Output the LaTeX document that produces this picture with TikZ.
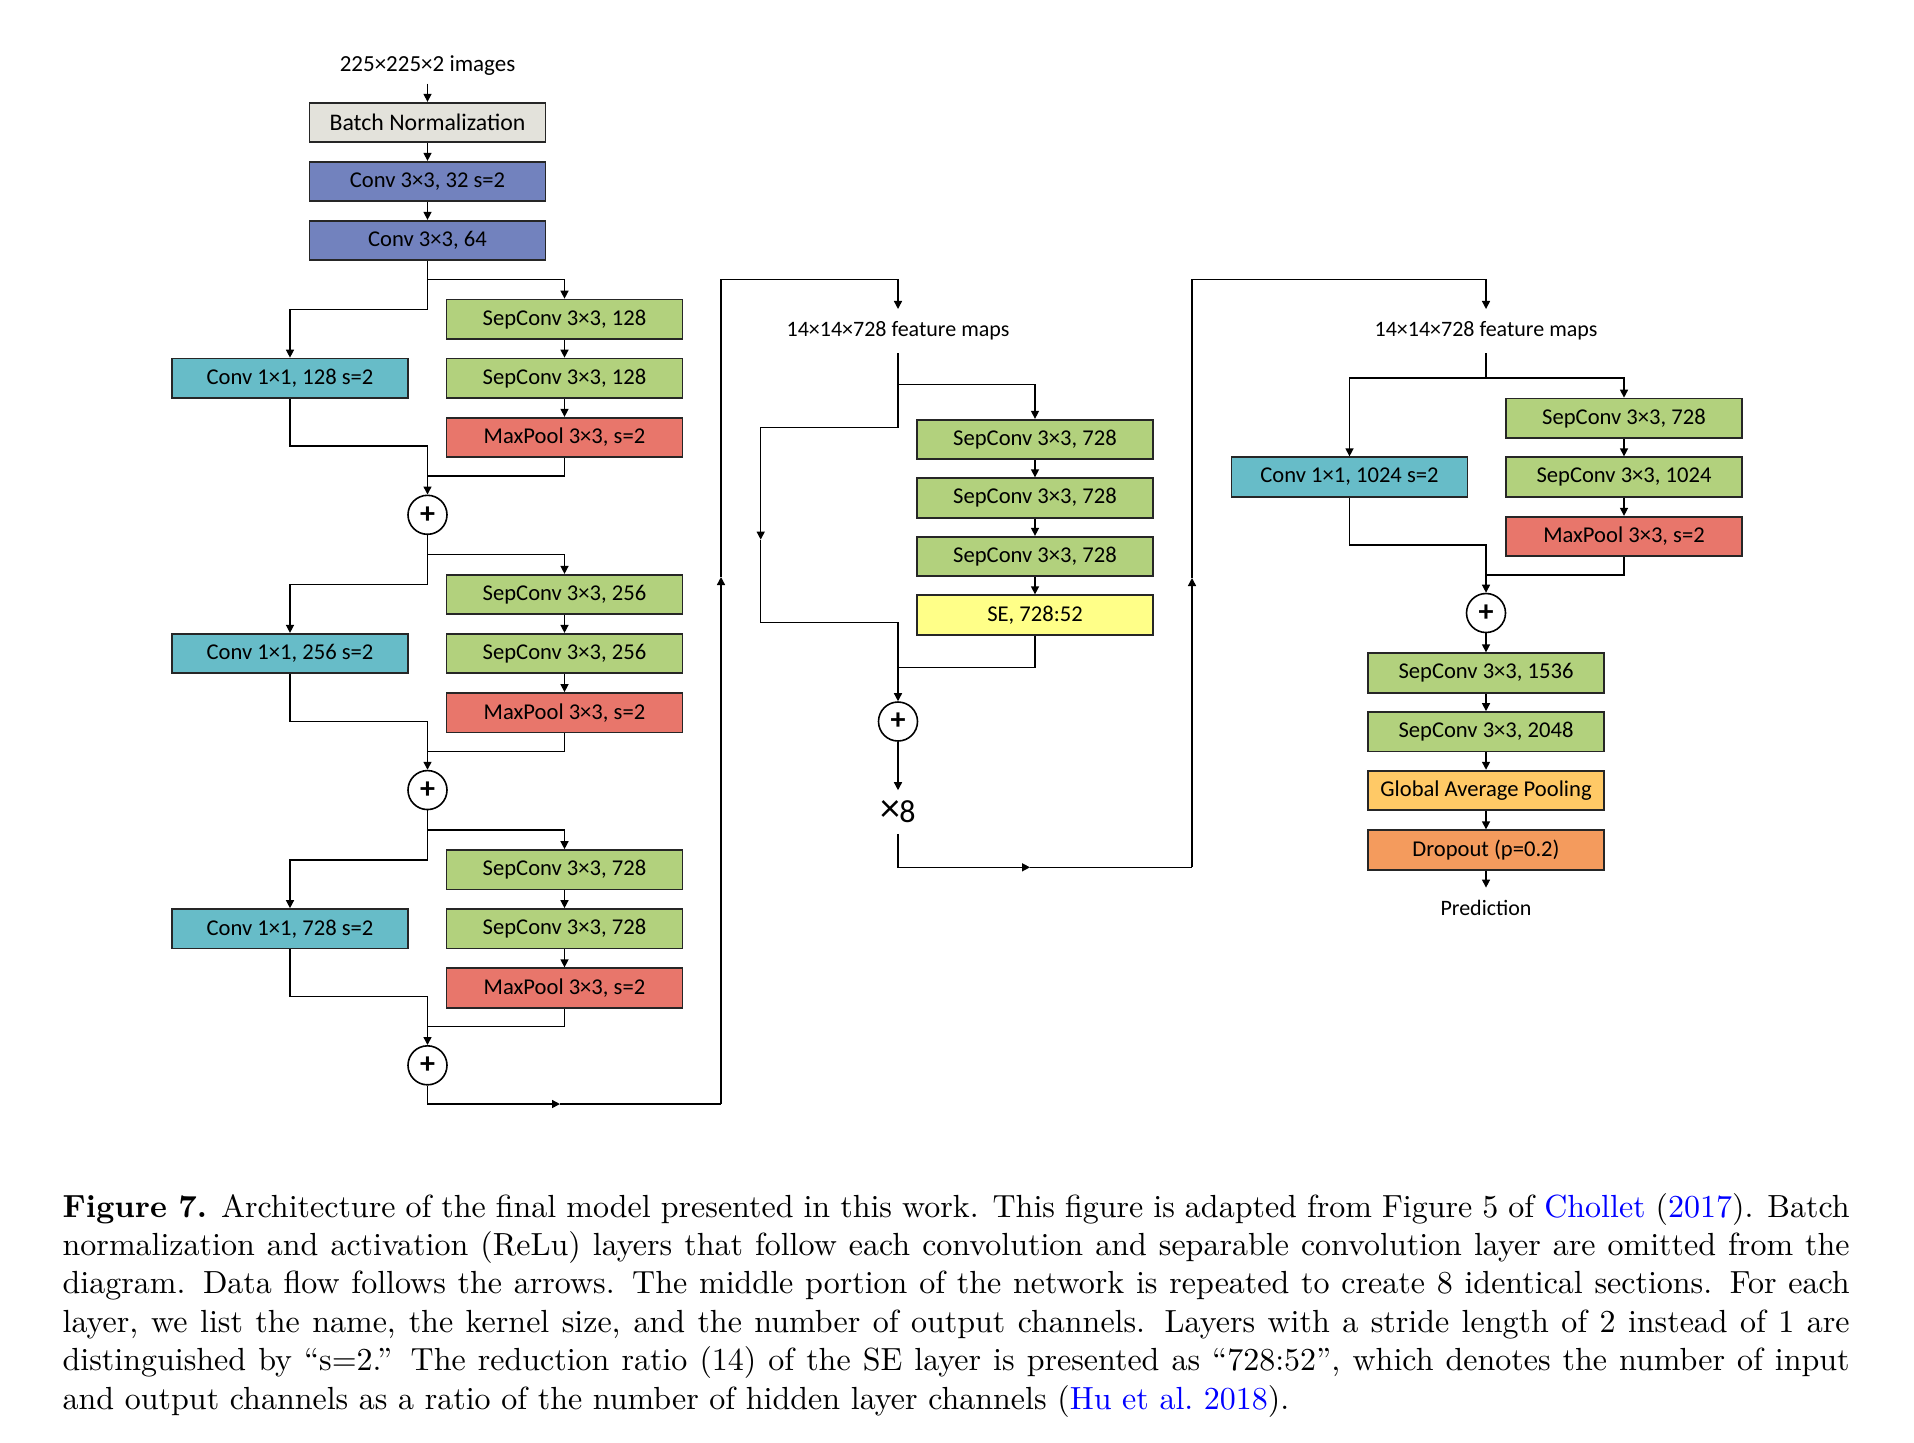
\documentclass[tikz,border=0pt]{standalone}
\usepackage{fontspec}
\newfontfamily\carlito{Carlito}
\newfontfamily\capfont{lmroman10}[Extension=.otf, UprightFont=*-regular, BoldFont=*-bold, ItalicFont=*-italic, Ligatures=TeX]
\usetikzlibrary{arrows.meta}
\definecolor{bncol}{RGB}{227,226,219}
\definecolor{convcol}{RGB}{114,130,190}
\definecolor{tealcol}{RGB}{103,188,200}
\definecolor{sepcol}{RGB}{178,209,125}
\definecolor{redcol}{RGB}{232,118,107}
\definecolor{secol}{RGB}{255,255,136}
\definecolor{gapcol}{RGB}{255,201,102}
\definecolor{dropcol}{RGB}{244,155,93}
\definecolor{linkblue}{RGB}{0,0,255}
\begin{document}
\begin{tikzpicture}[x=0.5pt,y=-0.5pt,line width=0.7pt,
  arr/.style={-{Triangle[length=4pt,width=4pt]}},
  box/.style={draw=black!85, line width=0.9pt, minimum width=118pt, minimum height=19.75pt, inner sep=0pt, font={\carlito\fontsize{11.3pt}{13pt}\selectfont}},
  lbl/.style={inner xsep=0pt, inner ysep=6pt, font={\carlito\fontsize{11pt}{13pt}\selectfont}},
  addc/.style={circle, draw, line width=0.8pt, minimum size=19.5pt, inner sep=0pt, font={\carlito\bfseries\fontsize{15pt}{15pt}\selectfont}},
  bignum/.style={inner xsep=0pt, inner ysep=5pt, font={\carlito\fontsize{16pt}{16pt}\selectfont}}
]
\fill[white] (0,0) rectangle (1914,1442);
\useasboundingbox (0,0) rectangle (1914,1442);

% ---------------- column 1 ----------------
\node[lbl, inner ysep=3.5pt, font={\carlito\fontsize{11.5pt}{13pt}\selectfont}] (inp) at (427.5,66) {225×225×2 images};
\node[box, fill=bncol, font={\carlito\fontsize{11.9pt}{13pt}\selectfont}] (bn) at (427.5,122.5) {Batch Normalization};
\node[box, fill=convcol] (c1) at (427.5,181.5) {Conv 3×3, 32 s=2};
\node[box, fill=convcol] (c2) at (427.5,240.5) {Conv 3×3, 64};
\draw[arr] (inp) -- (bn);
\draw[arr] (bn) -- (c1);
\draw[arr] (c1) -- (c2);

\foreach \k/\ch/\src in {0/128/c2,1/256/p0,2/728/p1}{
  \pgfmathsetmacro{\d}{275.25*\k}
  \node[box, fill=sepcol] (sa\k) at (564.5,{319.3+\d}) {SepConv 3×3, \ch};
  \node[box, fill=sepcol] (sb\k) at (564.5,{378.3+\d}) {SepConv 3×3, \ch};
  \node[box, fill=redcol] (mp\k) at (564.5,{437.5+\d}) {MaxPool 3×3, s=2};
  \node[box, fill=tealcol] (cv\k) at (290,{378.3+\d}) {Conv 1×1, \ch{} s=2};
  \node[addc] (p\k) at (427.5,{514.8+\d}) {+};
  \coordinate (b1\k) at (427.5,{279.3+\d});
  \coordinate (b2\k) at (427.5,{309.3+\d});
  \coordinate (j1\k) at (427.5,{446+\d});
  \coordinate (j2\k) at (427.5,{476+\d});
  \draw[arr] (\src.south) -- (b1\k) -| (sa\k.north);
  \draw[arr] (b1\k) -- (b2\k) -| (cv\k.north);
  \draw[arr] (sa\k) -- (sb\k);
  \draw[arr] (sb\k) -- (mp\k);
  \draw[arr] (cv\k.south) |- (j1\k) -- (p\k.north);
  \draw (mp\k.south) |- (j2\k);
}

\coordinate (e1) at (427.5,1104);
\coordinate (e2) at (560,1104);
\coordinate (e3) at (721,1104);
\coordinate (e4) at (721,577);
\coordinate (e5) at (721,279.5);

% ---------------- middle ----------------
\node[lbl] (fm1) at (898,331) {14×14×728 feature maps};
\draw[arr] (p2.south) -- (e1) -- (e2);
\draw (e2) -- (e3);
\draw[arr] (e3) -- (e4);
\draw[arr] (e4) -- (e5) -| (fm1.north);

\node[box, fill=sepcol] (ms1) at (1035,439.5) {SepConv 3×3, 728};
\node[box, fill=sepcol] (ms2) at (1035,498) {SepConv 3×3, 728};
\node[box, fill=sepcol] (ms3) at (1035,556.5) {SepConv 3×3, 728};
\node[box, fill=secol] (se) at (1035,615) {SE, 728:52};
\node[addc] (mq) at (898,721.5) {+};
\node[bignum] (x8) at (898,812) {\raisebox{0.5pt}{\fontsize{20pt}{20pt}\selectfont ×}\kern-0.5pt 8};

\coordinate (mb1) at (898,384.5);
\coordinate (mb2) at (898,427.3);
\coordinate (ml1) at (760.7,427.3);
\coordinate (ml2) at (760.7,539.6);
\coordinate (ml3) at (760.7,622.4);
\coordinate (mj1) at (898,622.4);
\coordinate (mj2) at (898,667.3);
\draw[arr] (fm1.south) -- (mb1) -| (ms1.north);
\draw (mb1) -- (mb2) -- (ml1);
\draw[arr] (ml1) -- (ml2);
\draw[arr] (ml2) -- (ml3) -- (mj1) -- (mq.north);
\draw (se.south) |- (mj2);
\draw[arr] (ms1) -- (ms2);
\draw[arr] (ms2) -- (ms3);
\draw[arr] (ms3) -- (se);
\draw[arr] (mq) -- (x8);

\coordinate (mr1) at (898,867.3);
\coordinate (mr2) at (1030,867.3);
\coordinate (mr3) at (1192,867.3);
\coordinate (mr4) at (1192,578);
\coordinate (mr5) at (1192,279.5);

% ---------------- right ----------------
\node[lbl] (fm2) at (1486,331) {14×14×728 feature maps};
\draw[arr] (x8.south) -- (mr1) -- (mr2);
\draw (mr2) -- (mr3);
\draw[arr] (mr3) -- (mr4);
\draw[arr] (mr4) -- (mr5) -| (fm2.north);

\node[box, fill=sepcol] (rs1) at (1624,418.3) {SepConv 3×3, 728};
\node[box, fill=sepcol] (rs2) at (1624,477) {SepConv 3×3, 1024};
\node[box, fill=redcol] (rmp) at (1624,536.5) {MaxPool 3×3, s=2};
\node[box, fill=tealcol] (rcv) at (1349.5,477) {Conv 1×1, 1024 s=2};
\node[addc] (rq) at (1486,613) {+};
\node[box, fill=sepcol] (rs3) at (1486,673) {SepConv 3×3, 1536};
\node[box, fill=sepcol] (rs4) at (1486,731.8) {SepConv 3×3, 2048};
\node[box, fill=gapcol] (gap) at (1486,790.4) {Global Average Pooling};
\node[box, fill=dropcol] (drop) at (1486,850) {Dropout (p=0.2)};
\node[lbl] (pred) at (1486,908) {Prediction};

\coordinate (rb) at (1486,378);
\coordinate (rj1) at (1486,545);
\coordinate (rj2) at (1486,574.8);
\draw (fm2.south) -- (rb);
\draw[arr] (rb) -| (rs1.north);
\draw[arr] (rb) -| (rcv.north);
\draw[arr] (rs1) -- (rs2);
\draw[arr] (rs2) -- (rmp);
\draw[arr] (rcv.south) |- (rj1) -- (rq.north);
\draw (rmp.south) |- (rj2);
\draw[arr] (rq) -- (rs3);
\draw[arr] (rs3) -- (rs4);
\draw[arr] (rs4) -- (gap);
\draw[arr] (gap) -- (drop);
\draw[arr] (drop) -- (pred);

% ---------------- caption ----------------
\node[anchor=base west, inner sep=0pt] (cap) at (62,1217) {\parbox[t]{893.5pt}{\capfont\fontsize{16pt}{19.2pt}\selectfont\hyphenpenalty=10000
\textbf{Figure 7.} Architecture of the final model presented in this work. This figure is adapted from Figure 5 of \textcolor{linkblue}{Chollet} (\textcolor{linkblue}{2017}). Batch\linebreak
normalization and activation (ReLu) layers that follow each convolution and separable convolution layer are omitted from the\linebreak
diagram. Data flow follows the arrows. The middle portion of the network is repeated to create 8 identical sections. For each\linebreak
layer, we list the name, the kernel size, and the number of output channels. Layers with a stride length of 2 instead of 1 are\linebreak
distinguished by “s=2.” The reduction ratio (14) of the SE layer is presented as “728:52”, which denotes the number of input\linebreak
and output channels as a ratio of the number of hidden layer channels (\textcolor{linkblue}{Hu et al.\ 2018}).}};
\end{tikzpicture}
\end{document}
